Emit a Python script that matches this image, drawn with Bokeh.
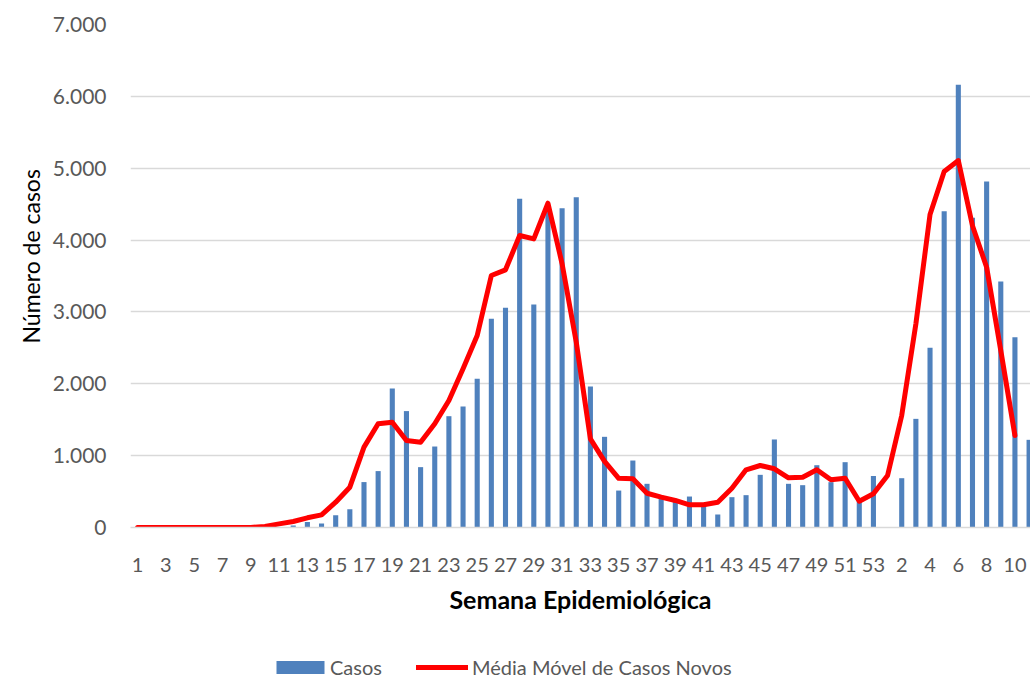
import numpy as np
from bokeh.plotting import figure
from bokeh.layouts import column
from bokeh.models import ColumnDataSource, FixedTicker, Legend, LegendItem, Range1d, Title
from bokeh.embed import file_html
from bokeh.resources import INLINE

# ---- data ----
semanas = list(range(1, 54)) + list(range(1, 12))
casos = [0, 0, 0, 0, 0, 0, 0, 0, 0, 0, 0,
         28, 75, 55, 170, 255, 632, 785, 1935, 1620,
         840, 1127, 1549, 1684, 2069, 2904, 3057, 4574, 3103, 4430,
         4444, 4597, 1962, 1262, 514, 932, 608, 440, 370, 431,
         320, 181, 422, 450, 733, 1225, 608, 589, 867, 631,
         909, 365, 717, 0, 686, 1512, 2500, 4401, 6160, 4309,
         4815, 3423, 2648, 1220]
media_movel = [0, 0, 0, 0, 0, 0, 0, 0, 0, 14,
               50, 83, 135, 176, 352, 561, 1118, 1443, 1466, 1210,
               1187, 1443, 1767, 2208, 2672, 3507, 3586, 4063, 4017, 4513,
               3669, 2579, 1234, 920, 684, 677, 477, 422, 376, 316,
               316, 352, 547, 803, 863, 817, 691, 700, 803, 664,
               686, 366, 469, 724, 1559, 2834, 4356, 4954, 5107, 4200,
               3622, 2463, 1280, float("nan")]
y_ticks = [0, 1000, 2000, 3000, 4000, 5000, 6000, 7000]
y_tick_labels = ["0", "1.000", "2.000", "3.000", "4.000", "5.000", "6.000", "7.000"]

FONT = "Lato"
BLUE = "#4F81BD"
RED = "#FF0000"
GREY_TXT = "#595959"
GRID = "#D9D9D9"

idx = list(range(1, len(semanas) + 1))
src = ColumnDataSource(dict(x=idx, casos=casos, media=media_movel))

p = figure(frame_width=900, frame_height=503, output_backend="svg", toolbar_location=None,
           x_range=Range1d(0.5, 64.1), y_range=Range1d(0, 7000),
           min_border_left=130, min_border_right=0, min_border_top=24,
           min_border_bottom=112)
p.outline_line_color = None
p.background_fill_color = "white"
p.border_fill_color = "white"

bars = p.vbar(x="x", top="casos", width=0.36, source=src, fill_color=BLUE,
              line_color=None)
line = p.line(x="x", y="media", source=src, line_color=RED, line_width=5,
              line_cap="round", line_join="round")

# grids
p.xgrid.grid_line_color = None
p.ygrid.grid_line_color = GRID
p.ygrid.grid_line_width = 1.5

# y axis
p.yaxis.ticker = FixedTicker(ticks=y_ticks)
p.yaxis.major_label_overrides = {t: l for t, l in zip(y_ticks, y_tick_labels)}
p.yaxis.axis_line_color = None
p.yaxis.major_tick_line_color = None
p.yaxis.minor_tick_line_color = None
p.yaxis.major_label_text_font = FONT
p.yaxis.major_label_text_font_size = "21px"
p.yaxis.major_label_text_color = GREY_TXT
p.yaxis.major_label_standoff = 18

ytitle = Title(text="Número de casos", align="left", offset=184, standoff=9,
               text_font=FONT, text_font_size="23px", text_font_style="normal",
               text_color="black")
p.add_layout(ytitle, "left")

# x axis
x_ticks = list(range(1, len(semanas) + 1, 2))
p.xaxis.ticker = FixedTicker(ticks=x_ticks)
p.xaxis.major_label_overrides = {i: str(semanas[i - 1]) for i in x_ticks}
p.xaxis.axis_line_color = GRID
p.xaxis.axis_line_width = 1.5
p.xaxis.major_tick_line_color = None
p.xaxis.minor_tick_line_color = None
p.xaxis.major_label_text_font = FONT
p.xaxis.major_label_text_font_size = "20px"
p.xaxis.major_label_text_color = GREY_TXT
p.xaxis.major_label_standoff = 24
p.xaxis.axis_label = "Semana Epidemiológica"
p.xaxis.axis_label_text_font = FONT
p.xaxis.axis_label_text_font_style = "bold"
p.xaxis.axis_label_text_font_size = "25px"
p.xaxis.axis_label_text_color = "black"
p.xaxis.axis_label_standoff = 9

# ---- legend strip (separate figure so it is not clipped) ----
leg = figure(width=1030, height=40, output_backend="svg", toolbar_location=None,
             x_axis_location=None, y_axis_location=None,
             min_border_left=0, min_border_right=0, min_border_top=0, min_border_bottom=0)
leg.outline_line_color = None
leg.xgrid.visible = False
leg.ygrid.visible = False
lbars = leg.vbar(x="x", top="casos", width=0.36, source=src, fill_color=BLUE,
                 line_color=None, visible=False)
lline = leg.line(x="x", y="media", source=src, line_color=RED, line_width=5,
                 line_cap="round", line_join="round", visible=False)

common = dict(orientation="horizontal", label_text_font=FONT, label_text_font_size="20px",
              label_text_color=GREY_TXT, border_line_color=None,
              background_fill_alpha=0, padding=0, margin=0, glyph_height=16)
leg1 = Legend(items=[LegendItem(label="Casos", renderers=[lbars])],
              location=(140, 0), glyph_width=60, label_standoff=0, **common)
leg2 = Legend(items=[LegendItem(label="Média Móvel de Casos Novos", renderers=[lline])],
              location=(286, 0), glyph_width=52, label_standoff=4, **common)
leg.add_layout(leg1, "center")
leg.add_layout(leg2, "center")

layout = column(p, leg, spacing=0)
open("out.html", "w").write(file_html(layout, INLINE))
